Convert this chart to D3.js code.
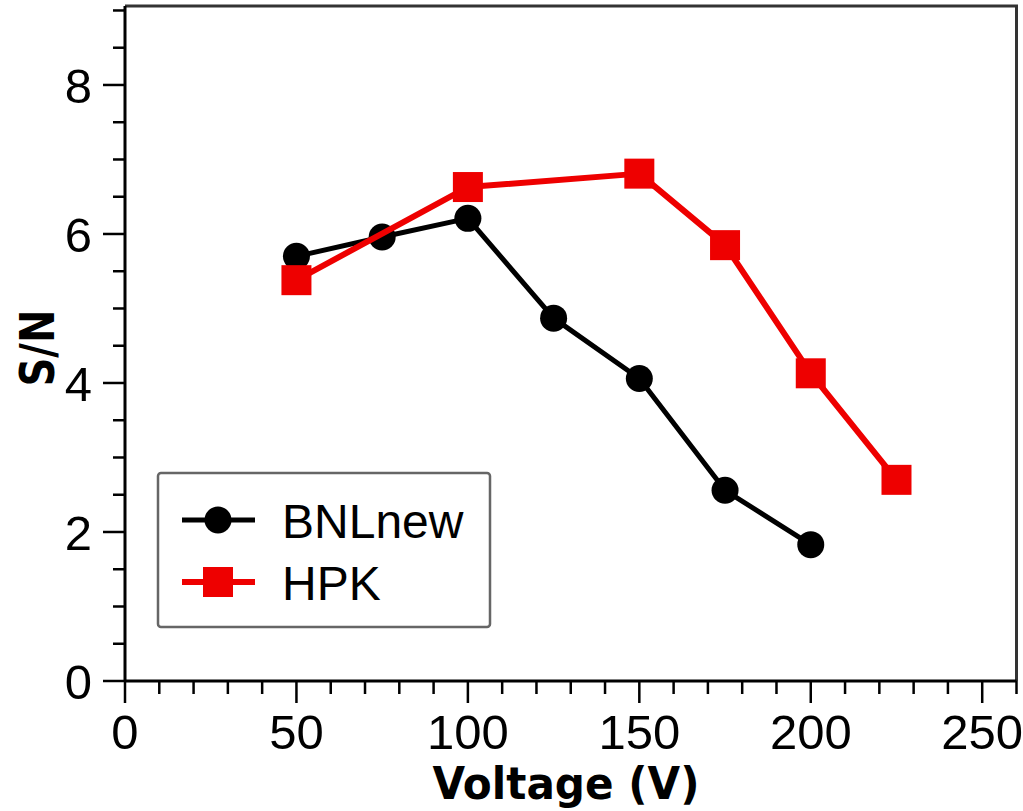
<!DOCTYPE html>
<html>
<head>
<meta charset="utf-8">
<script src="https://cdn.jsdelivr.net/npm/d3@7"></script>
<style>
  html, body { margin: 0; padding: 0; background: #fff; }
  svg { display: block; }
  .tick-label { font-family: "Liberation Sans Narrow", "Liberation Sans", Arial, sans-serif; font-size: 49px; fill: #000; }
  .axis-title { font-family: "DejaVu Sans", Verdana, sans-serif; font-weight: bold; fill: #000; }
  .legend-text { font-family: "Liberation Sans", Arial, sans-serif; font-size: 48px; fill: #000; }
</style>
</head>
<body>
<svg id="chart" width="1023" height="811"></svg>
<script>
// Bias voltage (V) and signal-to-noise ratio for each sensor
const bnlVoltage = [50, 75, 100, 125, 150, 175, 200];
const bnlSN      = [5.70, 5.96, 6.21, 4.87, 4.06, 2.56, 1.83];
const hpkVoltage = [50, 100, 150, 175, 200, 225];
const hpkSN      = [5.38, 6.63, 6.81, 5.85, 4.13, 2.70];

const xMajorTicks = [0, 50, 100, 150, 200, 250];
const yMajorTicks = [0, 2, 4, 6, 8];
const seriesNames = ["BNLnew", "HPK"];

const svg = d3.select("#chart");

const x = d3.scaleLinear().domain([0, 260]).range([125, 1016.5]);
const y = d3.scaleLinear().domain([0, 9.06]).range([681, 6]);

// Frame: top and right edges
svg.append("path")
  .attr("d", `M${x(0)},${y(9.06)} H${x(260)} V${y(0)}`)
  .attr("fill", "none").attr("stroke", "#333").attr("stroke-width", 3);

// Minor ticks
const xMinor = d3.range(0, 261, 10).filter(v => !xMajorTicks.includes(v));
const yMinor = d3.range(0, 9.01, 0.5).filter(v => !yMajorTicks.includes(v));

const axX = svg.append("g").attr("transform", `translate(0,${y(0)})`);
axX.selectAll("line.minor").data(xMinor).join("line")
  .attr("x1", d => x(d)).attr("x2", d => x(d)).attr("y1", 0).attr("y2", 13)
  .attr("stroke", "#000").attr("stroke-width", 2.5);
axX.selectAll("line.major").data(xMajorTicks).join("line")
  .attr("x1", d => x(d)).attr("x2", d => x(d)).attr("y1", 0).attr("y2", 22)
  .attr("stroke", "#000").attr("stroke-width", 2.5);
axX.selectAll("text").data(xMajorTicks).join("text")
  .attr("class", "tick-label")
  .attr("x", d => x(d)).attr("y", 68)
  .attr("text-anchor", "middle")
  .text(d => d);

const axY = svg.append("g").attr("transform", `translate(${x(0)},0)`);
axY.selectAll("line.minor").data(yMinor).join("line")
  .attr("y1", d => y(d)).attr("y2", d => y(d)).attr("x1", 0).attr("x2", -12)
  .attr("stroke", "#000").attr("stroke-width", 2.5);
axY.selectAll("line.major").data(yMajorTicks).join("line")
  .attr("y1", d => y(d)).attr("y2", d => y(d)).attr("x1", 0).attr("x2", -22)
  .attr("stroke", "#000").attr("stroke-width", 2.5);
axY.selectAll("text").data(yMajorTicks).join("text")
  .attr("class", "tick-label")
  .attr("x", -33).attr("y", d => y(d) + 18)
  .attr("text-anchor", "end")
  .text(d => d);

// Axis lines
svg.append("line").attr("x1", x(0)).attr("x2", x(260)).attr("y1", y(0)).attr("y2", y(0))
  .attr("stroke", "#000").attr("stroke-width", 3);
svg.append("line").attr("x1", x(0)).attr("x2", x(0)).attr("y1", y(0)).attr("y2", y(9.06))
  .attr("stroke", "#000").attr("stroke-width", 3);

// Axis titles
svg.append("text").attr("class", "axis-title")
  .attr("x", 566).attr("y", 799)
  .attr("text-anchor", "middle")
  .attr("font-size", 45)
  .attr("textLength", 267).attr("lengthAdjust", "spacingAndGlyphs")
  .text("Voltage (V)");
svg.append("text").attr("class", "axis-title")
  .attr("transform", `translate(54,348) rotate(-90)`)
  .attr("text-anchor", "middle")
  .attr("font-size", 48)
  .attr("textLength", 77).attr("lengthAdjust", "spacingAndGlyphs")
  .text("S/N");

// Series
const line = d3.line().x(d => x(d[0])).y(d => y(d[1]));
const bnl = bnlVoltage.map((v, i) => [v, bnlSN[i]]);
const hpk = hpkVoltage.map((v, i) => [v, hpkSN[i]]);

svg.append("path").datum(bnl).attr("d", line)
  .attr("fill", "none").attr("stroke", "#000").attr("stroke-width", 5).attr("stroke-linejoin", "round");
svg.selectAll("circle.bnl").data(bnl).join("circle")
  .attr("cx", d => x(d[0])).attr("cy", d => y(d[1])).attr("r", 13.5).attr("fill", "#000");

svg.append("path").datum(hpk).attr("d", line)
  .attr("fill", "none").attr("stroke", "#ee0000").attr("stroke-width", 6).attr("stroke-linejoin", "round");
const sq = 30;
svg.selectAll("rect.hpk").data(hpk).join("rect")
  .attr("x", d => x(d[0]) - sq / 2).attr("y", d => y(d[1]) - sq / 2)
  .attr("width", sq).attr("height", sq).attr("fill", "#ee0000");

// Legend
const lg = svg.append("g");
lg.append("rect").attr("x", 158).attr("y", 473).attr("width", 332).attr("height", 154)
  .attr("rx", 3).attr("fill", "#fff").attr("stroke", "#666").attr("stroke-width", 2.5);
const rows = [
  { name: seriesNames[0], color: "#000", shape: "circle", yy: 520 },
  { name: seriesNames[1], color: "#ee0000", shape: "square", yy: 582 }
];
rows.forEach(r => {
  lg.append("line").attr("x1", 182).attr("x2", 255).attr("y1", r.yy).attr("y2", r.yy)
    .attr("stroke", r.color).attr("stroke-width", r.shape === "circle" ? 5 : 6);
  if (r.shape === "circle") {
    lg.append("circle").attr("cx", 218).attr("cy", r.yy).attr("r", 13.5).attr("fill", r.color);
  } else {
    lg.append("rect").attr("x", 218 - sq / 2).attr("y", r.yy - sq / 2)
      .attr("width", sq).attr("height", sq).attr("fill", r.color);
  }
  lg.append("text").attr("class", "legend-text")
    .attr("x", 282).attr("y", r.yy + 18)
    .text(r.name);
});
</script>
</body>
</html>
